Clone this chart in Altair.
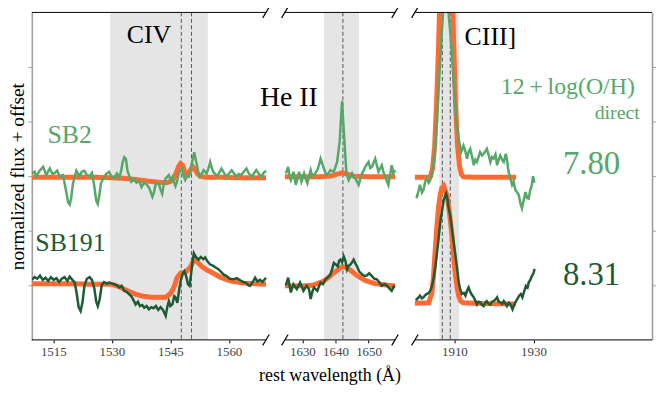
import altair as alt
import pandas as pd

# ---------------- data ----------------
# SB2 (light green) observed spectrum, panel CIV
sb2_civ_lam = [1509.5,1510.2,1510.7,1511.5,1512.4,1513.2,1514.1,1514.8,1515.4,1516.0,1516.6,1517.5,1518.3,1518.8,1519.2,1519.6,1520.0,1520.9,1521.7,1522.3,1523.0,1523.6,1524.3,1524.9,1525.5,1526.0,1526.4,1526.8,1527.2,1528.1,1528.7,1529.3,1530.0,1530.6,1531.3,1531.9,1532.4,1532.7,1533.2,1533.6,1534.0,1534.4,1535.0,1535.7,1536.3,1537.0,1537.6,1538.3,1538.9,1539.6,1540.0,1540.4,1540.8,1541.3,1542.1,1542.5,1542.9,1543.3,1543.8,1544.6,1545.1,1545.5,1546.3,1546.7,1547.1,1548.0,1548.4,1548.8,1549.3,1549.7,1550.2,1550.7,1551.1,1551.5,1551.8,1552.2,1552.6,1553.1,1553.5,1554.3,1554.8,1555.2,1555.6,1556.0,1556.9,1557.5,1558.1,1558.8,1559.4,1560.0,1560.7,1561.3,1561.9,1562.5,1563.2,1563.8,1564.5,1565.1,1565.8,1566.4,1567.0,1567.7,1568.3,1568.9,1569.5]
sb2_civ_flux = [3.05,3.08,3.0,3.1,3.17,3.02,3.14,3.04,3.06,3.1,3.0,3.02,2.72,2.52,2.48,2.6,2.85,3.1,3.0,3.08,3.1,3.02,3.0,3.06,2.82,2.55,2.49,2.65,2.87,3.0,3.05,3.08,2.98,2.97,3.05,2.97,3.1,3.23,3.35,3.32,3.1,3.02,2.9,2.95,2.88,2.92,2.8,2.88,2.85,2.78,2.7,2.62,2.7,2.88,2.85,2.75,2.68,2.85,2.96,3.02,2.92,2.98,2.82,2.9,3.05,3.14,3.0,2.93,3.0,2.99,3.14,3.3,3.44,3.3,3.2,3.05,2.99,3.05,3.11,3.05,3.15,3.26,3.15,3.08,3.0,3.06,3.14,3.05,2.99,3.05,3.11,3.05,2.99,3.04,3.02,3.08,3.14,3.05,2.99,3.05,3.11,3.04,2.99,3.06,3.1]
sb2_civ_mlam = [1509.5,1515,1520,1525,1530,1533,1536,1539,1542,1544,1545,1545.8,1546.5,1547.1,1547.6,1548.1,1548.6,1549.2,1549.8,1550.4,1550.8,1551.3,1551.9,1552.6,1554,1558,1562,1566,1569.5]
sb2_civ_model = [2.98,2.98,2.98,2.98,2.97,2.96,2.94,2.91,2.89,2.88,2.9,2.95,3.06,3.18,3.23,3.2,3.1,3.03,3.07,3.14,3.17,3.13,3.05,3.0,2.98,2.98,2.97,2.97,2.97]

# SB191 (dark green), panel CIV
sb191_civ_lam = [1509.5,1510.2,1510.9,1511.6,1512.3,1513.0,1513.7,1514.4,1515.1,1515.8,1516.5,1517.2,1517.9,1518.6,1519.2,1519.9,1520.5,1521.0,1521.5,1522.0,1522.5,1523.0,1523.6,1524.3,1524.9,1525.5,1526.0,1526.4,1526.9,1527.4,1528.0,1528.7,1529.3,1530.0,1530.6,1531.3,1531.9,1532.5,1533.2,1533.8,1534.4,1535.0,1535.6,1536.1,1536.7,1537.2,1537.8,1538.3,1538.9,1539.5,1540.1,1540.7,1541.3,1541.9,1542.5,1543.1,1543.8,1544.2,1544.6,1545.0,1545.5,1546.0,1546.3,1546.8,1547.2,1547.7,1548.2,1548.6,1549.1,1549.5,1549.9,1550.3,1550.7,1551.0,1551.5,1552.2,1552.8,1553.4,1553.9,1554.5,1555.2,1555.9,1556.5,1557.2,1557.8,1558.6,1559.4,1560.2,1561.1,1562.0,1562.9,1563.7,1564.5,1565.0,1565.4,1566.0,1566.7,1567.3,1568.0,1568.6,1569.5]
sb191_civ_flux = [1.1,1.15,1.12,1.18,1.1,1.14,1.08,1.15,1.1,1.13,1.06,1.12,1.15,1.08,1.16,1.1,1.05,0.85,0.6,0.53,0.7,1.0,1.12,1.15,1.1,0.95,0.7,0.62,0.75,1.0,1.06,1.03,1.05,1.03,1.02,1.0,0.96,0.99,0.9,0.88,0.84,0.8,0.72,0.65,0.7,0.62,0.64,0.59,0.62,0.56,0.6,0.58,0.62,0.55,0.6,0.55,0.44,0.6,0.71,0.62,0.65,0.8,0.78,0.68,0.9,1.1,1.22,1.26,1.15,1.02,0.99,1.2,1.45,1.59,1.52,1.47,1.52,1.48,1.51,1.44,1.38,1.36,1.33,1.3,1.26,1.2,1.17,1.12,1.11,1.13,1.09,1.06,1.04,1.0,0.99,1.05,1.14,1.07,1.1,1.06,1.14]
sb191_civ_mlam = [1509.5,1515,1520,1525,1530,1532,1534,1536,1538,1540,1543.8,1545,1545.9,1546.7,1547.6,1548.9,1550.1,1551.0,1551.3,1552,1553,1554.4,1556,1557.8,1560.3,1563.7,1569.5]
sb191_civ_model = [1.03,1.03,1.03,1.02,1.02,0.97,0.9,0.84,0.8,0.78,0.78,0.85,0.96,1.14,1.22,1.24,1.33,1.47,1.5,1.42,1.35,1.28,1.22,1.15,1.08,1.04,1.02]

# He II panel
sb2_he_lam = [1625.0,1625.7,1626.1,1626.5,1627.3,1628.0,1628.5,1629.0,1629.7,1630.5,1631.0,1631.5,1632.5,1633.0,1633.5,1634.5,1635.0,1635.5,1636.5,1637.0,1637.5,1638.5,1639.5,1640.5,1641.3,1641.7,1642.0,1642.3,1642.7,1643.3,1644.0,1645.0,1645.5,1646.0,1647.0,1648.0,1648.5,1649.0,1650.0,1650.5,1651.0,1652.0,1652.5,1653.0,1654.0,1654.5,1655.0,1656.0,1657.0,1657.5,1658.0]
sb2_he_flux = [3.05,3.17,3.0,2.93,3.08,2.84,2.95,3.08,2.9,3.05,2.95,2.87,3.11,3.0,3.02,3.11,3.2,3.32,3.14,3.05,3.02,3.11,3.08,3.26,3.65,4.1,4.38,4.05,3.65,3.05,2.93,3.05,2.98,2.96,2.84,3.05,3.1,3.17,3.26,3.15,3.17,3.32,3.2,3.08,3.2,3.08,2.99,2.84,3.2,3.05,3.11]
sb2_he_mlam = [1624.7,1630,1635,1638.5,1640,1642,1644,1645.5,1650,1658]
sb2_he_model = [2.99,2.99,2.99,3.0,3.03,3.06,3.03,3.0,2.99,2.99]

sb191_he_lam = [1625.0,1625.7,1626.5,1627.3,1628.3,1629.3,1630.3,1631.3,1632.0,1632.5,1633.0,1633.5,1634.5,1635.5,1636.2,1637.0,1637.8,1638.5,1639.0,1639.5,1640.1,1640.7,1641.1,1641.5,1642.0,1642.5,1643.0,1643.5,1644.0,1644.5,1645.0,1645.5,1646.0,1646.5,1647.2,1648.0,1648.8,1649.5,1650.2,1651.0,1651.8,1652.5,1653.2,1654.0,1654.8,1655.5,1656.2,1657.0,1657.6,1658.0]
sb191_he_flux = [1.0,1.14,0.87,1.02,0.93,1.05,0.9,0.99,0.93,0.75,0.88,0.96,0.9,1.05,1.02,1.11,1.15,1.2,1.3,1.41,1.38,1.35,1.45,1.47,1.42,1.53,1.45,1.29,1.36,1.38,1.42,1.47,1.4,1.35,1.25,1.2,1.17,1.18,1.22,1.17,1.12,1.11,1.06,0.99,1.02,1.0,0.95,0.9,0.98,0.96]
sb191_he_mlam = [1624.7,1630,1633,1635,1636.5,1638,1639.5,1641,1642,1643,1644.5,1646,1647.5,1649,1650.5,1652,1653.5,1656,1658]
sb191_he_model = [0.99,0.99,1.0,1.04,1.08,1.15,1.23,1.3,1.34,1.33,1.28,1.2,1.14,1.09,1.06,1.03,1.02,1.0,0.99]

# CIII] panel
sb2_c3_lam = [1900.3,1900.5,1901.0,1901.3,1901.8,1902.2,1902.6,1903.0,1903.5,1903.9,1904.5,1905.1,1905.6,1906.0,1906.4,1906.8,1907.3,1907.7,1908.1,1908.5,1909.0,1909.4,1909.8,1910.2,1910.6,1911.1,1911.7,1912.3,1912.8,1913.2,1913.6,1914.0,1914.5,1914.9,1915.3,1915.7,1916.1,1916.5,1917.0,1917.4,1917.8,1918.2,1918.7,1919.1,1919.5,1919.9,1920.4,1920.8,1921.2,1921.6,1922.1,1922.5,1923.0,1923.3,1923.7,1924.2,1924.6,1925.0,1925.4,1925.9,1926.3,1926.7,1927.1,1927.5,1928.0,1928.4,1928.8,1929.2,1929.6,1929.9,1930.2]
sb2_c3_flux = [2.6,2.62,2.75,2.84,2.7,2.75,2.9,2.96,2.88,2.93,3.11,3.5,4.0,4.59,5.1,5.62,6.2,6.5,6.4,6.0,5.6,5.2,4.75,4.29,3.95,3.68,3.44,3.56,3.45,3.32,3.45,3.5,3.35,3.2,3.3,3.26,3.35,3.44,3.38,3.41,3.45,3.5,3.38,3.26,3.35,3.32,3.4,3.2,3.3,3.38,3.3,3.26,3.41,3.3,3.08,2.95,2.84,2.9,2.75,2.7,2.65,2.5,2.41,2.55,2.71,2.6,2.59,2.75,2.84,3.0,2.88]
sb2_c3_mlam = [1900.0,1903.5,1904.0,1904.5,1905.0,1905.5,1906.0,1906.5,1907.0,1907.5,1907.9,1908.3,1908.8,1909.3,1909.8,1910.3,1910.8,1911.3,1911.8,1912.3,1915,1920,1925.6]
sb2_c3_model = [2.98,2.98,3.0,3.15,3.55,4.35,5.4,6.7,8.0,8.9,9.2,9.0,8.2,6.9,5.5,4.3,3.55,3.18,3.03,2.99,2.98,2.98,2.98]

sb191_c3_lam = [1900.3,1900.5,1901.0,1901.3,1901.8,1902.2,1902.6,1903.0,1903.5,1903.9,1904.3,1904.7,1905.2,1905.6,1906.0,1906.4,1906.9,1907.3,1907.9,1908.2,1908.5,1909.0,1909.4,1909.8,1910.2,1910.7,1911.1,1911.5,1911.9,1912.4,1912.8,1913.2,1913.6,1914.0,1914.3,1914.9,1915.3,1915.7,1916.1,1916.5,1917.0,1917.4,1917.8,1918.2,1918.7,1919.1,1919.5,1919.9,1920.4,1920.8,1921.2,1921.6,1922.1,1922.5,1922.9,1923.3,1923.8,1924.2,1924.7,1925.1,1925.6,1926.0,1926.4,1926.8,1927.2,1927.7,1928.1,1928.5,1928.8,1929.2,1929.6,1930.0,1930.3]
sb191_c3_flux = [0.72,0.75,0.78,0.81,0.76,0.78,0.82,0.84,0.86,0.9,0.98,1.11,1.35,1.59,1.85,2.14,2.38,2.56,2.68,2.6,2.44,2.25,2.02,1.8,1.59,1.3,1.05,0.92,0.84,0.86,0.81,0.9,0.96,0.88,0.84,0.78,0.72,0.65,0.7,0.69,0.64,0.62,0.68,0.71,0.66,0.65,0.7,0.71,0.74,0.78,0.7,0.69,0.66,0.71,0.67,0.62,0.68,0.65,0.56,0.64,0.71,0.76,0.81,0.84,0.78,0.9,0.99,0.96,1.05,1.1,1.17,1.22,1.3]
sb191_c3_mlam = [1900.0,1903.5,1904.3,1904.7,1905.1,1905.6,1906.0,1906.4,1906.8,1907.3,1907.8,1908.3,1908.8,1909.4,1909.8,1910.2,1910.7,1911.1,1911.6,1912.2,1915,1920,1925.6]
sb191_c3_model = [0.67,0.68,0.85,1.15,1.6,2.1,2.44,2.65,2.78,2.82,2.72,2.58,2.3,1.9,1.55,1.23,0.95,0.8,0.71,0.68,0.67,0.66,0.66]

# shaded line windows and line centres
band_lo = [1529.6, 1636.5, 1906.2]
band_hi = [1554.6, 1647.1, 1911.2]
line_centres = [1547.8, 1550.4, 1642.25, 1906.95, 1908.96]

# panel limits of the broken axis
panel_lo = [1509.5, 1624.7, 1900.0]
panel_hi = [1569.5, 1658.0, 1960.0]
x_ticks = [1515, 1530, 1545, 1560, 1630, 1640, 1650, 1910, 1930]
y_ticks = [1, 2, 3, 4, 5]

# annotations
ann_text = ["CIV", "He II", "CIII]", "12\u2009+\u2009log(O/H)", "direct", "7.80", "8.31", "SB2", "SB191"]
ann_lam = [1539.5, 1625.9, 1919.1, 1938.7, 1951.2, 1944.7, 1944.7, 1519.2, 1519.4]
ann_y = [5.58, 4.44, 5.55, 4.64, 4.16, 3.22, 1.18, 3.75, 1.78]

LIGHT = "#55A868"
DARK = "#1E5B34"
ORANGE = "#FF6A33"
ann_col = ["black", "black", "black", LIGHT, LIGHT, LIGHT, DARK, LIGHT, DARK]
ann_size = [26, 28, 26, 24, 20, 33, 33, 26, 26]

# ---------------- tables ----------------
def seg(lams, vals, grp):
    return pd.DataFrame({"lam": lams, "flux": vals, "grp": grp})

obs = pd.concat([
    seg(sb2_civ_lam, sb2_civ_flux, "sb2_a"), seg(sb2_he_lam, sb2_he_flux, "sb2_b"),
    seg(sb2_c3_lam, sb2_c3_flux, "sb2_c"),
    seg(sb191_civ_lam, sb191_civ_flux, "sb191_a"), seg(sb191_he_lam, sb191_he_flux, "sb191_b"),
    seg(sb191_c3_lam, sb191_c3_flux, "sb191_c"),
])
obs["series"] = obs["grp"].str.split("_").str[0]
mod = pd.concat([
    seg(sb2_civ_mlam, sb2_civ_model, "m1"), seg(sb2_he_mlam, sb2_he_model, "m2"),
    seg(sb2_c3_mlam, sb2_c3_model, "m3"),
    seg(sb191_civ_mlam, sb191_civ_model, "m4"), seg(sb191_he_mlam, sb191_he_model, "m5"),
    seg(sb191_c3_mlam, sb191_c3_model, "m6"),
])
bands = pd.DataFrame({"lo": band_lo, "hi": band_hi, "y0": 0, "y1": 6})
centres = pd.DataFrame({"lam": line_centres})
spines = pd.DataFrame({"lo": panel_lo * 2, "hi": panel_hi * 2, "y": [6] * 3 + [0] * 3})
brk_x = [panel_hi[0], panel_lo[1], panel_hi[1], panel_lo[2]]
breaks = pd.DataFrame({"lam": brk_x * 2, "y": [6] * 4 + [0] * 4})
ann = pd.DataFrame({"t": ann_text, "lam": ann_lam, "y": ann_y, "c": ann_col, "s": ann_size})

W, H = 625, 330
XSCALE = alt.Scale(domain=[panel_lo[0], panel_hi[0], panel_lo[1], panel_hi[1], panel_lo[2], panel_hi[2]],
                   range=[0, 236, 255, 366, 386, 625], nice=False, zero=False)
YSCALE = alt.Scale(domain=[0, 6], nice=False, zero=False)
SERIF = "Liberation Serif"

XAXIS = alt.Axis(values=x_ticks, format="d", domain=False, ticks=True, tickSize=3, tickColor="black",
                 labelFont=SERIF, labelFontSize=13, labelColor="#444", labelPadding=3,
                 title="rest wavelength (Å)", titleFont=SERIF, titleFontSize=18,
                 titleFontWeight="normal", titleColor="black", titlePadding=8, titleX=300, grid=False)


def X(field, axis=None):
    return alt.X(field, type="quantitative", scale=XSCALE, axis=axis if axis is not None else XAXIS)


def Y(field, axis=None):
    return alt.Y(field, type="quantitative", scale=YSCALE, axis=axis)


band_layer = alt.Chart(bands).mark_rect(color="#e5e5e5").encode(
    x=X("lo"), x2="hi", y=Y("y0"), y2="y1")

centre_layer = alt.Chart(centres).mark_rule(color="#555555", strokeDash=[4, 2.5], strokeWidth=1).encode(
    x=X("lam"))

model_layer = alt.Chart(mod).mark_line(color=ORANGE, strokeWidth=5, clip=True).encode(
    x=X("lam"), y=Y("flux"), detail="grp:N")

obs_layer = alt.Chart(obs).mark_line(strokeWidth=2.5, clip=True).encode(
    x=X("lam"), y=Y("flux"), detail="grp:N",
    color=alt.Color("series:N", scale=alt.Scale(domain=["sb2", "sb191"], range=[LIGHT, DARK]), legend=None))

spine_layer = alt.Chart(spines).mark_rule(color="black", strokeWidth=1).encode(
    x=X("lo"), x2="hi", y=Y("y"))

break_layer = alt.Chart(breaks).mark_point(
    shape="M-0.6,1L0.6,-1", size=121, filled=False, stroke="black", strokeWidth=1.2, opacity=1
).encode(x=X("lam"), y=Y("y"))

text_layer = alt.Chart(ann).mark_text(font=SERIF, baseline="middle", align="center").encode(
    x=X("lam"), y=Y("y"), text="t:N", color=alt.Color("c:N", scale=None),
    size=alt.Size("s:Q", scale=None))

left_axis = alt.Chart(pd.DataFrame({"y": y_ticks})).mark_point(opacity=0).encode(
    y=Y("y", alt.Axis(orient="left", values=y_ticks, labels=False, domainColor="#a0a0a0", domainWidth=1.6,
                      tickColor="#a0a0a0", tickSize=4, tickWidth=1, grid=False,
                      title="normalized flux + offset", titleFont=SERIF, titleFontSize=19.5,
                      titleFontWeight="normal", titleColor="black", titlePadding=0)))

right_axis = alt.Chart(pd.DataFrame({"y": y_ticks})).mark_point(opacity=0).encode(
    y=Y("y", alt.Axis(orient="right", values=y_ticks, labels=False, domainColor="#a0a0a0", domainWidth=1.6,
                      tickColor="#a0a0a0", tickSize=4, tickWidth=1, grid=False, title=None)))

chart = alt.layer(
    band_layer, centre_layer, model_layer, obs_layer, spine_layer, break_layer, text_layer,
    left_axis, right_axis
).resolve_scale(y="independent").properties(
    width=W, height=H,
    autosize=alt.AutoSizeParams(type="none"),
    padding={"left": 24, "top": 3, "right": 4, "bottom": 44},
).configure_view(stroke=None)

chart.save("out.html", embed_options={"renderer": "svg", "actions": False})
